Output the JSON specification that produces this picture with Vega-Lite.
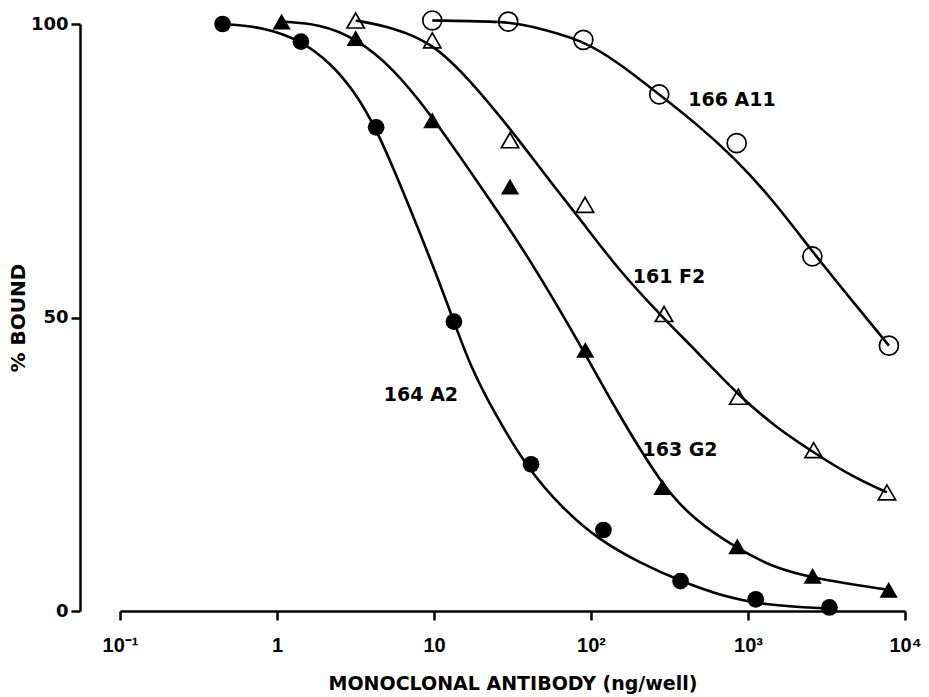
{
  "$schema": "https://vega.github.io/schema/vega-lite/v6.json",
  "width": 785,
  "height": 587,
  "autosize": {"type": "none"},
  "padding": {"left": 120, "top": 24, "right": 24, "bottom": 86},
  "background": "white",
  "config": {
    "view": {"stroke": null},
    "axis": {"grid": false, "domainColor": "#000", "tickColor": "#000", "labelColor": "#000", "titleColor": "#000"}
  },
  "datasets": {
    "points": [
      {"series": "164 A2", "x": 0.45, "y": 100},
      {"series": "164 A2", "x": 1.42, "y": 97.0},
      {"series": "164 A2", "x": 4.28, "y": 82.4},
      {"series": "164 A2", "x": 13.4, "y": 49.3},
      {"series": "164 A2", "x": 41.5, "y": 25.0},
      {"series": "164 A2", "x": 120, "y": 13.8},
      {"series": "164 A2", "x": 372, "y": 5.1},
      {"series": "164 A2", "x": 1120, "y": 2.0},
      {"series": "164 A2", "x": 3300, "y": 0.6},
      {"series": "163 G2", "x": 1.07, "y": 100.4},
      {"series": "163 G2", "x": 3.17, "y": 97.6},
      {"series": "163 G2", "x": 9.75, "y": 83.6},
      {"series": "163 G2", "x": 30.5, "y": 72.3},
      {"series": "163 G2", "x": 92, "y": 44.5},
      {"series": "163 G2", "x": 285, "y": 21.1},
      {"series": "163 G2", "x": 855, "y": 11.0},
      {"series": "163 G2", "x": 2580, "y": 6.0},
      {"series": "163 G2", "x": 7870, "y": 3.6},
      {"series": "161 F2", "x": 3.17, "y": 100.6},
      {"series": "161 F2", "x": 9.75, "y": 97.2},
      {"series": "161 F2", "x": 30.5, "y": 80.2},
      {"series": "161 F2", "x": 91.6, "y": 69.2},
      {"series": "161 F2", "x": 292, "y": 50.6},
      {"series": "161 F2", "x": 867, "y": 36.5},
      {"series": "161 F2", "x": 2620, "y": 27.4},
      {"series": "161 F2", "x": 7670, "y": 20.2},
      {"series": "166 A11", "x": 9.75, "y": 100.6},
      {"series": "166 A11", "x": 29.7, "y": 100.4},
      {"series": "166 A11", "x": 89.4, "y": 97.3},
      {"series": "166 A11", "x": 272, "y": 88.0},
      {"series": "166 A11", "x": 847, "y": 79.7},
      {"series": "166 A11", "x": 2570, "y": 60.4},
      {"series": "166 A11", "x": 7900, "y": 45.2}
    ],
    "curves": [
      {"series": "164 A2", "x": 0.45, "y": 100},
      {"series": "164 A2", "x": 0.82, "y": 99.5},
      {"series": "164 A2", "x": 1.42, "y": 97.2},
      {"series": "164 A2", "x": 2.18, "y": 93.4},
      {"series": "164 A2", "x": 3.06, "y": 88.8},
      {"series": "164 A2", "x": 4.28, "y": 82.4},
      {"series": "164 A2", "x": 6.7, "y": 70.0},
      {"series": "164 A2", "x": 9.9, "y": 58.7},
      {"series": "164 A2", "x": 13.4, "y": 49.3},
      {"series": "164 A2", "x": 17.1, "y": 41.6},
      {"series": "164 A2", "x": 24.5, "y": 33.5},
      {"series": "164 A2", "x": 39, "y": 24.5},
      {"series": "164 A2", "x": 65, "y": 17.6},
      {"series": "164 A2", "x": 112, "y": 12.1},
      {"series": "164 A2", "x": 212, "y": 8.0},
      {"series": "164 A2", "x": 372, "y": 5.1},
      {"series": "164 A2", "x": 690, "y": 2.5},
      {"series": "164 A2", "x": 1277, "y": 1.0},
      {"series": "164 A2", "x": 3300, "y": 0.4},
      {"series": "163 G2", "x": 1.07, "y": 100.4},
      {"series": "163 G2", "x": 1.88, "y": 100.0},
      {"series": "163 G2", "x": 3.17, "y": 97.6},
      {"series": "163 G2", "x": 5.5, "y": 92.5},
      {"series": "163 G2", "x": 9.75, "y": 84.2},
      {"series": "163 G2", "x": 15, "y": 77.0},
      {"series": "163 G2", "x": 22, "y": 70.6},
      {"series": "163 G2", "x": 40, "y": 60.3},
      {"series": "163 G2", "x": 87, "y": 45.0},
      {"series": "163 G2", "x": 139, "y": 35.0},
      {"series": "163 G2", "x": 285, "y": 21.2},
      {"series": "163 G2", "x": 457, "y": 15.5},
      {"series": "163 G2", "x": 855, "y": 10.6},
      {"series": "163 G2", "x": 1486, "y": 7.3},
      {"series": "163 G2", "x": 2580, "y": 5.6},
      {"series": "163 G2", "x": 7870, "y": 3.6},
      {"series": "161 F2", "x": 3.17, "y": 100.6},
      {"series": "161 F2", "x": 5.5, "y": 99.4},
      {"series": "161 F2", "x": 9.75, "y": 96.8},
      {"series": "161 F2", "x": 16.9, "y": 90.5},
      {"series": "161 F2", "x": 32, "y": 81.5},
      {"series": "161 F2", "x": 52, "y": 74.0},
      {"series": "161 F2", "x": 85, "y": 66.8},
      {"series": "161 F2", "x": 153, "y": 57.8},
      {"series": "161 F2", "x": 280, "y": 50.3},
      {"series": "161 F2", "x": 500, "y": 43.5},
      {"series": "161 F2", "x": 867, "y": 36.8},
      {"series": "161 F2", "x": 1486, "y": 31.4},
      {"series": "161 F2", "x": 2620, "y": 27.0},
      {"series": "161 F2", "x": 4590, "y": 22.9},
      {"series": "161 F2", "x": 7670, "y": 20.2},
      {"series": "166 A11", "x": 9.75, "y": 100.6},
      {"series": "166 A11", "x": 29.7, "y": 100.4},
      {"series": "166 A11", "x": 38.9, "y": 99.8},
      {"series": "166 A11", "x": 89.4, "y": 97.3},
      {"series": "166 A11", "x": 153, "y": 93.2},
      {"series": "166 A11", "x": 272, "y": 88.0},
      {"series": "166 A11", "x": 470, "y": 83.0},
      {"series": "166 A11", "x": 805, "y": 77.4},
      {"series": "166 A11", "x": 1449, "y": 70.0},
      {"series": "166 A11", "x": 2570, "y": 61.2},
      {"series": "166 A11", "x": 4690, "y": 52.6},
      {"series": "166 A11", "x": 7900, "y": 45.2}
    ],
    "labels": [
      {"label": "166 A11", "x": 791, "y": 87.0},
      {"label": "161 F2", "x": 314, "y": 56.9},
      {"label": "164 A2", "x": 8.26, "y": 36.8},
      {"label": "163 G2", "x": 369, "y": 27.4}
    ]
  },
  "encoding": {
    "x": {
      "field": "x",
      "type": "quantitative",
      "scale": {"type": "log", "domain": [0.1, 10000], "nice": false},
      "axis": {
        "values": [0.1, 1, 10, 100, 1000, 10000],
        "labelExpr": "datum.value < 0.5 ? '10⁻¹' : datum.value < 5 ? '1' : datum.value < 50 ? '10' : datum.value < 500 ? '10²' : datum.value < 5000 ? '10³' : '10⁴'",
        "title": "MONOCLONAL ANTIBODY (ng/well)",
        "labelFont": "Liberation Sans",
        "labelFontWeight": "bold",
        "labelFontSize": 20,
        "labelPadding": 15,
        "labelFlush": false,
        "labelOverlap": false,
        "tickSize": 9,
        "tickWidth": 2.5,
        "domainWidth": 2.5,
        "titleFont": "DejaVu Sans",
        "titleFontSize": 19,
        "titleFontWeight": "bold",
        "titlePadding": 19
      }
    },
    "y": {
      "field": "y",
      "type": "quantitative",
      "scale": {"domain": [0, 100], "nice": false},
      "axis": {
        "values": [0, 50, 100],
        "title": "% BOUND",
        "offset": 40,
        "tickSize": 9,
        "tickWidth": 2.5,
        "domainWidth": 2.5,
        "labelFont": "DejaVu Sans",
        "labelFontWeight": "bold",
        "labelFontSize": 18,
        "labelPadding": 3,
        "titleFont": "DejaVu Sans",
        "titleFontSize": 20,
        "titleFontWeight": "bold",
        "titlePadding": 2
      }
    }
  },
  "layer": [
    {
      "data": {"name": "curves"},
      "mark": {"type": "line", "interpolate": "basis", "color": "#000", "strokeWidth": 2.6},
      "encoding": {"detail": {"field": "series"}, "order": {"field": "x", "type": "quantitative"}}
    },
    {
      "data": {"name": "points"},
      "transform": [{"filter": {"field": "series", "equal": "164 A2"}}],
      "mark": {"type": "point", "shape": "circle", "filled": true, "color": "#000", "opacity": 1, "size": 280}
    },
    {
      "data": {"name": "points"},
      "transform": [{"filter": {"field": "series", "equal": "163 G2"}}],
      "mark": {"type": "point", "shape": "triangle-up", "filled": true, "color": "#000", "opacity": 1, "size": 330}
    },
    {
      "data": {"name": "points"},
      "transform": [{"filter": {"field": "series", "equal": "161 F2"}}],
      "mark": {"type": "point", "shape": "triangle-up", "filled": false, "color": "#000", "opacity": 1, "size": 300, "strokeWidth": 1.7}
    },
    {
      "data": {"name": "points"},
      "transform": [{"filter": {"field": "series", "equal": "166 A11"}}],
      "mark": {"type": "point", "shape": "circle", "filled": false, "color": "#000", "opacity": 1, "size": 360, "strokeWidth": 1.7}
    },
    {
      "data": {"name": "labels"},
      "mark": {"type": "text", "font": "DejaVu Sans", "fontWeight": "bold", "fontSize": 19, "color": "#000", "align": "center", "baseline": "middle"},
      "encoding": {"text": {"field": "label"}}
    }
  ]
}
